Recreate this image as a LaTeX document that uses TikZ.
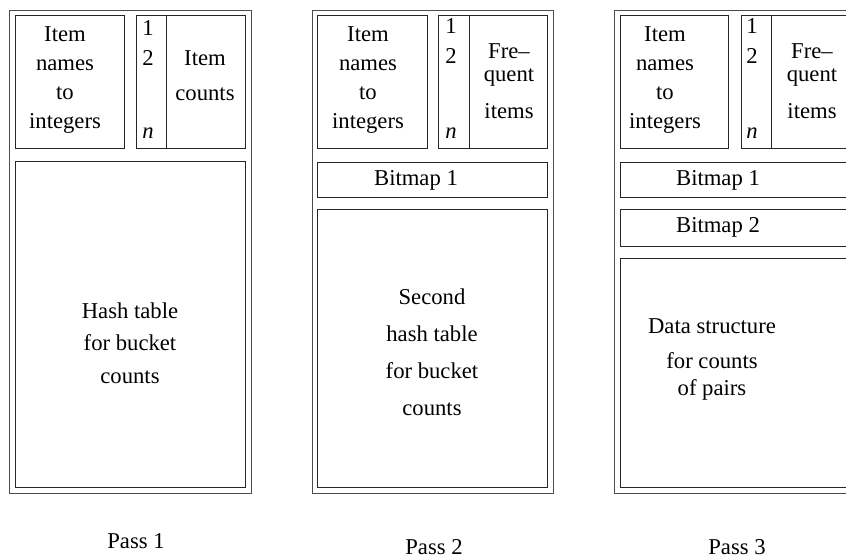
\documentclass[tikz,border=0pt]{standalone}
\usepackage{fontspec}
\setmainfont{Liberation Serif}
\usetikzlibrary{positioning}

\tikzset{
  frame/.style={draw=black!70, line width=0.6pt},
  cell/.style={draw=black!85, line width=0.6pt},
  txt/.style={font=\fontsize{17}{21.75}\selectfont, align=center, inner sep=0pt, anchor=base},
}

\begin{document}
\begin{tikzpicture}[x=0.75pt, y=-0.75pt]

        \useasboundingbox (0,0) rectangle (846,557);
        \clip (0,0) rectangle (846,557);

        % Pass 1
        \draw[frame] (9,10) rectangle (251,493);
        \draw[cell] (15,15) rectangle (124,148);
        \draw[cell] (136,15) rectangle (245,148);
        \draw[cell] (166,15) -- (166,148);
        \draw[cell] (15,161) rectangle (245,487);

        \node[txt] (names1) at (65,128) {Item\\names\\to\\integers};
        \node[txt] (one1) at (148,35) {1};
        \node[txt] (two1) at (148,65) {2};
        \node[txt] (n1) at (148,138) {\textit{n}};
        \node[txt] (counts1) at (205,100) {Item\\[4.5pt]counts};
        \node[txt] (hash1) at (130,383) {Hash table\\[2.6pt]for bucket\\[2.6pt]counts};
        \node[txt] (pass1) at (136,548) {Pass 1};

        % Pass 2
        \draw[frame] (312,10) rectangle (553,493);
        \draw[cell] (317,15) rectangle (427,148);
        \draw[cell] (438,15) rectangle (547,148);
        \draw[cell] (469,15) -- (469,148);
        \draw[cell] (317,162) rectangle (547,197);
        \draw[cell] (317,209) rectangle (547,487);

        \node[txt] (names2) at (368,128) {Item\\names\\to\\integers};
        \node[txt] (one2) at (451,33) {1};
        \node[txt] (two2) at (451,63) {2};
        \node[txt] (n2) at (451,138) {\textit{n}};
        \node[txt] (freq2) at (509,118) {Fre--\\[-5pt]quent\\[6pt]items};
        \node[txt] (bitmapA2) at (416,185) {Bitmap 1};
        \node[txt] (hash2) at (432,415) {Second\\[6pt]hash table\\[6pt]for bucket\\[6pt]counts};
        \node[txt] (pass2) at (434,554) {Pass 2};

        % Pass 3
        \draw[frame] (614,10) rectangle (855,493);
        \draw[cell] (620,15) rectangle (728,148);
        \draw[cell] (741,15) rectangle (849,148);
        \draw[cell] (771,15) -- (771,148);
        \draw[cell] (620,162) rectangle (849,197);
        \draw[cell] (620,209) rectangle (849,246);
        \draw[cell] (620,258) rectangle (849,487);

        \node[txt] (names3) at (665,128) {Item\\names\\to\\integers};
        \node[txt] (one3) at (752,33) {1};
        \node[txt] (two3) at (752,63) {2};
        \node[txt] (n3) at (752,138) {\textit{n}};
        \node[txt] (freq3) at (812,118) {Fre--\\[-5pt]quent\\[6pt]items};
        \node[txt] (bitmapA3) at (718,185) {Bitmap 1};
        \node[txt] (bitmapB3) at (718,232) {Bitmap 2};
        \node[txt] (pairs3) at (712,395) {Data structure\\[5pt]for counts\\[-2pt]of pairs};
        \node[txt] (pass3) at (737,554) {Pass 3};

      \end{tikzpicture}
\end{document}
